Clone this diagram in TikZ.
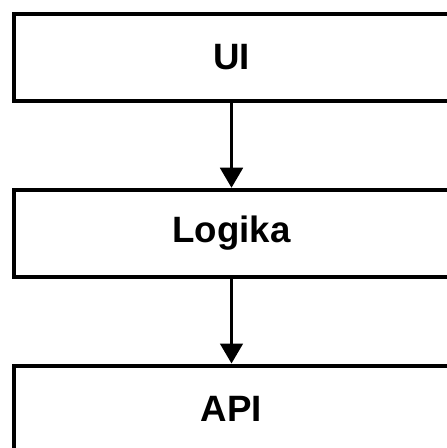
\documentclass[tikz,border=0pt]{standalone}
\usepackage{fontspec}
\setmainfont{Liberation Sans}
\usetikzlibrary{arrows.meta}
\begin{document}
\begin{tikzpicture}[x=0.75pt,y=-0.75pt,
  layer/.style={draw=black, line width=3pt, anchor=west, minimum width=420pt, minimum height=65.25pt, inner sep=0pt},
  caption/.style={inner sep=0pt, font=\fontsize{27.5}{30}\selectfont\bfseries},
  link/.style={draw=black, line width=2.2pt, -{Triangle[width=17pt,length=15pt]}}]
\useasboundingbox (0,0) rectangle (446,448);
\node[layer] (ui) at (11.5,57.5) {};
\node[layer] (logic) at (11.5,233.25) {};
\node[layer] (api) at (11.5,409) {};
\node[caption] (uit) at (231.5,57.5) {UI};
\node[caption] (logict) at (231.5,233.25) {Logika};
\node[caption] (apit) at (231.5,409) {API};
\draw[link] (uit |- ui.south) -- (uit |- logic.north);
\draw[link] (logict |- logic.south) -- (logict |- api.north);
\end{tikzpicture}
\end{document}
